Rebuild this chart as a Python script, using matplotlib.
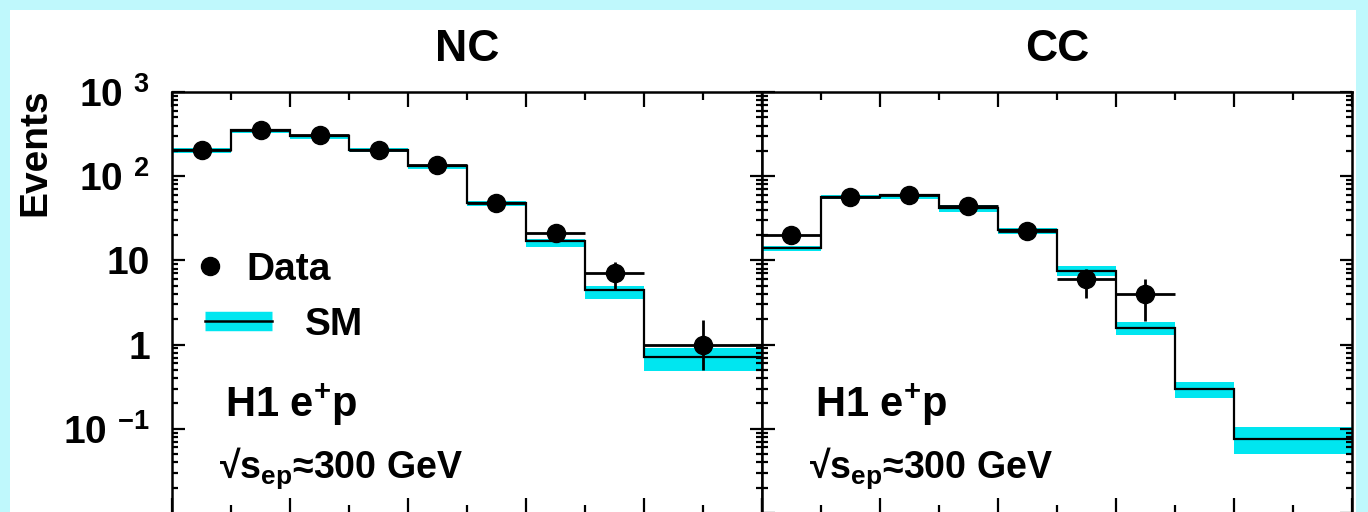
"""
H1 e+p NC / CC event yields (data vs SM) on a log scale, two panels.
"""
import numpy as np
import matplotlib
matplotlib.use("Agg")
import matplotlib.pyplot as plt
from matplotlib.lines import Line2D
from matplotlib.patches import Rectangle
from matplotlib.legend_handler import HandlerTuple
from matplotlib.ticker import FixedLocator, NullFormatter, LogLocator

plt.rcParams["font.family"] = ["Liberation Sans", "DejaVu Sans"]
plt.rcParams["font.weight"] = "bold"
plt.rcParams["mathtext.fontset"] = "custom"
plt.rcParams["mathtext.rm"] = "Liberation Sans:bold"
plt.rcParams["mathtext.it"] = "Liberation Sans:bold"
plt.rcParams["mathtext.bf"] = "Liberation Sans:bold"

# bin edges (x axis labels are cut off in the source, generic units)
edges = [0.0, 0.5, 1.0, 1.5, 2.0, 2.5, 3.0, 3.5, 4.0, 5.0]

# NC
nc_data = [203, 351, 306, 207, 135, 48, 21, 7, 1]
nc_err_lo = [14, 19, 17, 14, 12, 7, 4.6, 2.6, 0.5]
nc_err_hi = [14, 19, 17, 14, 12, 7, 4.6, 2.6, 0.96]
nc_sm = [205, 350, 300, 205, 131, 48, 17, 4.4, 0.72]
nc_sm_lo = [190, 330, 280, 192, 121, 44, 14.4, 3.5, 0.49]
nc_sm_hi = [215, 365, 312, 214, 137, 51, 18.1, 5.0, 0.90]

# CC (no data events in the last two bins)
cc_data = [20, 56, 59, 44, 22.3, 6, 4]
cc_err_lo = [4.5, 7.5, 7.7, 6.6, 4.7, 2.4, 2.1]
cc_err_hi = [4.5, 7.5, 7.7, 6.6, 4.7, 1.8, 2.0]
cc_sm = [14.1, 57, 59, 42, 22.9, 7.5, 1.59, 0.295, 0.0755]
cc_sm_lo = [13.0, 53, 53, 38, 20.5, 6.6, 1.29, 0.235, 0.050]
cc_sm_hi = [15.0, 60, 62, 45, 24.0, 8.6, 1.86, 0.36, 0.104]

CYAN = "#00e6f0"
W, H = 1368, 512

fig = plt.figure(figsize=(W / 100, H / 100), dpi=100, facecolor="#bff8fc")
fig.add_artist(Rectangle((10 / W, 0), (1356 - 10) / W, (H - 10) / H,
                         transform=fig.transFigure, facecolor="white",
                         edgecolor="none", zorder=0))

ax_top, ax_bot = 92, 513
ax_nc = fig.add_axes([172 / W, 1 - ax_bot / H, 590 / W, (ax_bot - ax_top) / H])
ax_cc = fig.add_axes([762 / W, 1 - ax_bot / H, 590 / W, (ax_bot - ax_top) / H])


def panel(ax, data, elo, ehi, sm, smlo, smhi, title):
    e = np.array(edges)
    ax.stairs(smhi, e, baseline=smlo, fill=True, color=CYAN, lw=0, zorder=1)
    ax.stairs(sm, e, baseline=None, color="black", lw=1.6, zorder=2)
    n = len(data)
    xc = 0.5 * (e[:-1] + e[1:])[:n]
    xw = 0.5 * (e[1:] - e[:-1])[:n]
    ax.errorbar(xc, data, xerr=xw, yerr=[elo, ehi], fmt="o", color="black",
                ms=13, elinewidth=2.0, capsize=0, zorder=3)
    ax.set_yscale("log")
    ax.set_ylim(1e-2, 1e3)
    ax.set_xlim(0, 5)
    ax.xaxis.set_major_locator(FixedLocator([0, 1, 2, 3, 4, 5]))
    ax.xaxis.set_minor_locator(FixedLocator([0.5, 1.5, 2.5, 3.5, 4.5]))
    ax.yaxis.set_major_locator(FixedLocator([1e-2, 1e-1, 1, 10, 100, 1000]))
    ax.yaxis.set_minor_locator(LogLocator(base=10, subs=np.arange(2, 10)))
    ax.yaxis.set_minor_formatter(NullFormatter())
    ax.tick_params(which="both", direction="in", top=True, right=True,
                   labelbottom=False, width=1.6)
    ax.tick_params(axis="x", which="major", length=11)
    ax.tick_params(axis="x", which="minor", length=5.5)
    ax.tick_params(axis="y", which="major", length=9)
    ax.tick_params(axis="y", which="minor", length=4.5)
    for s in ax.spines.values():
        s.set_linewidth(1.8)
    ax.text(0.5, 1.10, title, transform=ax.transAxes, ha="center",
            va="center", fontsize=32)
    ax.text(0.09, 0.2565, "H1 e$^{+}$p", transform=ax.transAxes,
            ha="left", va="center", fontsize=30)
    ax.text(0.08, 0.107, "\u221as$_{ep}$\u2248300 GeV", transform=ax.transAxes,
            ha="left", va="center", fontsize=27)


panel(ax_nc, nc_data, nc_err_lo, nc_err_hi, nc_sm, nc_sm_lo, nc_sm_hi, "NC")
panel(ax_cc, cc_data, cc_err_lo, cc_err_hi, cc_sm, cc_sm_lo, cc_sm_hi, "CC")

ax_nc.set_yticks([1e-1, 1, 10, 100, 1000])
ax_nc.set_yticklabels(["10 $^{-1}$", "1", "10", "10 $^{2}$", "10 $^{3}$"])
ax_nc.tick_params(axis="y", which="major", labelsize=28, pad=16)
ax_cc.tick_params(axis="y", labelleft=False)

fig.text(35 / W, 1 - 152 / H, "Events", rotation=90, ha="center",
         va="center", fontsize=28)

# legend, two pieces so the handles line up like the original
h_data = Line2D([], [], marker="o", ls="none", color="black", ms=13)
leg1 = ax_nc.legend([h_data], ["Data"], loc="center left",
                    bbox_to_anchor=(0.032, 0.577), frameon=False, fontsize=28,
                    handlelength=1.0, handletextpad=0.42, borderpad=0,
                    borderaxespad=0)
ax_nc.add_artist(leg1)
h_band = Line2D([], [], color=CYAN, lw=14, solid_capstyle="butt")
h_line = Line2D([], [], color="black", lw=1.8)
ax_nc.legend([(h_band, h_line)], ["SM"], loc="center left",
             bbox_to_anchor=(0.056, 0.4466), frameon=False, fontsize=28,
             handlelength=1.72, handletextpad=0.85, borderpad=0,
             borderaxespad=0, handler_map={tuple: HandlerTuple(ndivide=1)})

fig.savefig("out.png", dpi=100, facecolor=fig.get_facecolor())
